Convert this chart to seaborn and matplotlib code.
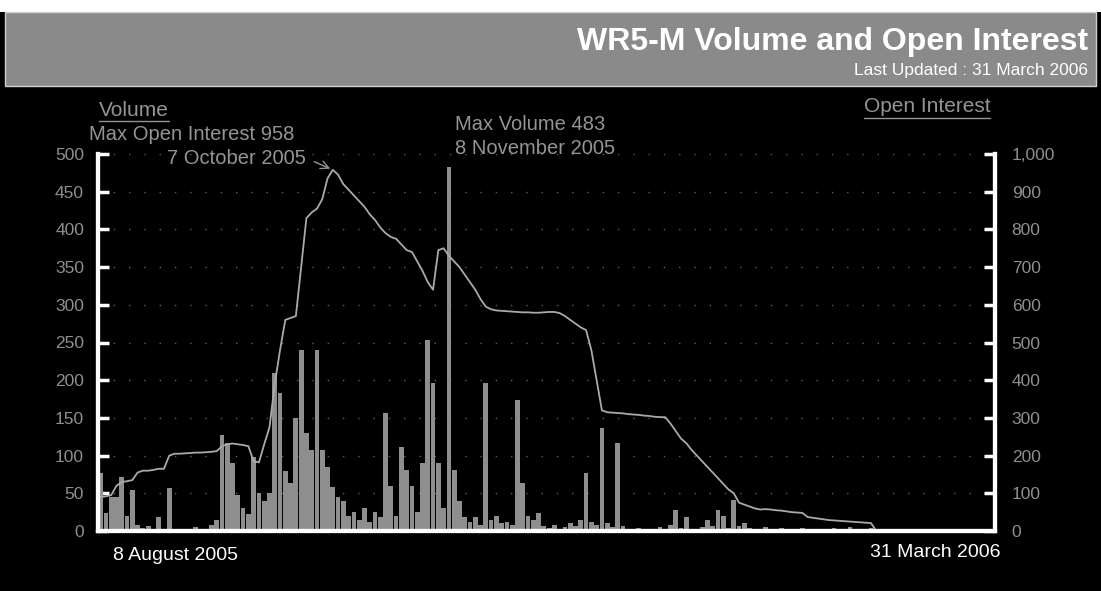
import numpy as np
import pandas as pd
import seaborn as sns
import matplotlib.pyplot as plt
from matplotlib.patches import Rectangle
from matplotlib.lines import Line2D
from matplotlib.ticker import MultipleLocator, FuncFormatter

# trading days 8 Aug 2005 .. 31 Mar 2006
dates = pd.bdate_range("2005-08-08", "2006-03-31")

# daily volume (contracts)
volume = [
    77, 24, 45, 45, 72, 20, 54, 8, 4, 6,
    3, 19, 0, 57, 3, 0, 2, 0, 5, 0,
    3, 8, 15, 127, 117, 90, 48, 30, 22, 98,
    50, 40, 50, 210, 183, 80, 64, 150, 240, 130,
    107, 240, 107, 85, 58, 45, 40, 20, 25, 15,
    30, 12, 25, 18, 156, 60, 20, 111, 81, 60,
    25, 90, 253, 196, 90, 30, 483, 81, 40, 19,
    12, 18, 8, 196, 15, 20, 10, 12, 8, 174,
    64, 20, 15, 24, 6, 4, 8, 3, 5, 10,
    6, 14, 77, 12, 8, 137, 10, 5, 117, 6,
    3, 2, 4, 0, 2, 3, 5, 2, 8, 28,
    4, 19, 3, 2, 5, 15, 6, 28, 20, 4,
    41, 6, 10, 4, 3, 2, 5, 3, 2, 4,
    2, 3, 2, 4, 3, 2, 3, 1, 2, 4,
    2, 3, 5, 2, 3, 2, 4, 0, 0, 0,
    0, 0, 0, 0, 0, 0, 0, 0, 0, 0,
    0, 0, 0, 0, 0, 0, 0, 0, 0, 0,
]

# open interest
open_interest = [
    90, 92, 95, 120, 130, 132, 135, 155, 160, 160,
    162, 165, 165, 200, 205, 205, 206, 207, 208, 208,
    209, 210, 212, 225, 230, 232, 230, 228, 225, 185,
    182, 230, 275, 390, 480, 560, 565, 570, 700, 830,
    845, 855, 880, 935, 958, 945, 920, 905, 890, 875,
    860, 840, 825, 805, 790, 780, 775, 760, 745, 740,
    715, 690, 660, 640, 745, 750, 730, 715, 700, 680,
    660, 640, 615, 595, 588, 585, 584, 583, 582, 581,
    580, 580, 579, 579, 580, 581, 581, 578, 570, 560,
    550, 540, 533, 480, 400, 320, 315, 314, 313, 312,
    310, 309, 308, 306, 305, 303, 302, 302, 285, 265,
    245, 233, 215, 200, 185, 170, 155, 140, 125, 110,
    100, 75, 70, 65, 60, 57, 58, 57, 55, 54,
    52, 50, 49, 48, 37, 35, 33, 31, 29, 28,
    27, 26, 25, 24, 23, 22, 21, 0, 0, 0,
    0, 0, 0, 0, 0, 0, 0, 0, 0, 0,
    0, 0, 0, 0, 0, 0, 0, 0, 0, 0,
]

df = pd.DataFrame({"day": np.arange(len(dates)), "volume": volume, "oi": open_interest})

sns.set_style("dark", {"axes.facecolor": "black", "figure.facecolor": "black"})
plt.rcParams["font.family"] = ["Liberation Sans", "DejaVu Sans"]

W, H = 1101, 591
fig = plt.figure(figsize=(W / 100, H / 100), dpi=100, facecolor="black")

# header band
fig.patches.append(Rectangle((0, (H - 12) / H), 1, 12 / H, transform=fig.transFigure,
                             facecolor="white", edgecolor="none"))
fig.patches.append(Rectangle((5 / W, (H - 86) / H), 1091 / W, 74 / H, transform=fig.transFigure,
                             facecolor="#8a8a8a", edgecolor="#d0d0d0", lw=1))
fig.text(1088 / W, (H - 42) / H, "WR5-M Volume and Open Interest", color="white",
         fontsize=23, fontweight="bold", ha="right", va="center")
fig.text(1088 / W, (H - 70) / H, "Last Updated : 31 March 2006", color="white",
         fontsize=12.5, ha="right", va="center")

ax = fig.add_axes([98 / W, 60 / H, 897 / W, 377 / H])
sns.barplot(data=df, x="day", y="volume", color="#8e8e8e", saturation=1, width=0.9,
            linewidth=0, edgecolor="none", ax=ax)
ax.set_xlim(-0.5, len(dates) - 0.5)
ax.set_ylim(0, 500)
ax.yaxis.set_major_locator(MultipleLocator(50))
ax.set_xticks([])
ax.set_xlabel("")
ax.set_ylabel("")
ax.grid(axis="y", color="#606060", linestyle=(0, (1, 10)), lw=1)
ax.set_axisbelow(True)

ax2 = ax.twinx()
sns.lineplot(data=df, x="day", y="oi", color="#aaaaaa", lw=1.3, ax=ax2)
ax2.set_ylim(0, 1000)
ax2.yaxis.set_major_locator(MultipleLocator(100))
ax2.yaxis.set_major_formatter(FuncFormatter(lambda v, p: f"{int(v):,}"))
ax2.set_xlabel("")
ax2.set_ylabel("")
ax2.set_xlim(-0.5, len(dates) - 0.5)

for a in (ax, ax2):
    for s in a.spines.values():
        s.set_color("white")
        s.set_linewidth(3)
    a.spines["top"].set_visible(False)
ax.tick_params(axis="y", direction="in", length=8, width=2.5, color="white",
               labelcolor="#8f8f8f", labelsize=12.5, pad=10, left=True)
ax2.tick_params(axis="y", direction="in", length=8, width=2.5, color="white",
                labelcolor="#8f8f8f", labelsize=12.5, pad=12, right=True)

# date labels at both ends of the axis
ax.text(0.017, -0.064, dates[0].strftime("%-d %B %Y"), transform=ax.transAxes,
        color="white", fontsize=14, ha="left", va="center")
ax.text(1.0056, -0.058, dates[-1].strftime("%-d %B %Y"), transform=ax.transAxes,
        color="white", fontsize=14, ha="right", va="center")

lab_col = "#949494"
t_vol = fig.text(134 / W, (H - 110) / H, "Volume", color=lab_col, fontsize=15, ha="center", va="center")
t_oi = fig.text(927 / W, (H - 107) / H, "Open Interest", color=lab_col, fontsize=15, ha="center", va="center")

# max annotations
imax_oi = int(np.argmax(open_interest))
imax_v = int(np.argmax(volume))
fig.text(192 / W, (H - 135) / H, f"Max Open Interest {open_interest[imax_oi]}", color=lab_col,
         fontsize=14.5, ha="center", va="center")
ax2.annotate(dates[imax_oi].strftime("%-d %B %Y"), xy=(imax_oi, open_interest[imax_oi]),
             xytext=(167, H - 158), textcoords="figure pixels", color=lab_col, fontsize=14.5,
             ha="left", va="center",
             arrowprops=dict(arrowstyle="->", color=lab_col, lw=1, relpos=(1, 0.5), shrinkA=4, shrinkB=2))
fig.text(455 / W, (H - 124) / H, f"Max Volume {volume[imax_v]}", color=lab_col,
         fontsize=14.5, ha="left", va="center")
fig.text(455 / W, (H - 149) / H, dates[imax_v].strftime("%-d %B %Y"), color=lab_col,
         fontsize=14.5, ha="left", va="center")

# underline the two axis titles
fig.canvas.draw()
r = fig.canvas.get_renderer()
for t in (t_vol, t_oi):
    bb = t.get_window_extent(r)
    fig.add_artist(Line2D([bb.x0 / W, bb.x1 / W], [(bb.y0 - 1) / H, (bb.y0 - 1) / H],
                          transform=fig.transFigure, color=lab_col, lw=1))

fig.savefig("out.png", dpi=100, facecolor="black")
